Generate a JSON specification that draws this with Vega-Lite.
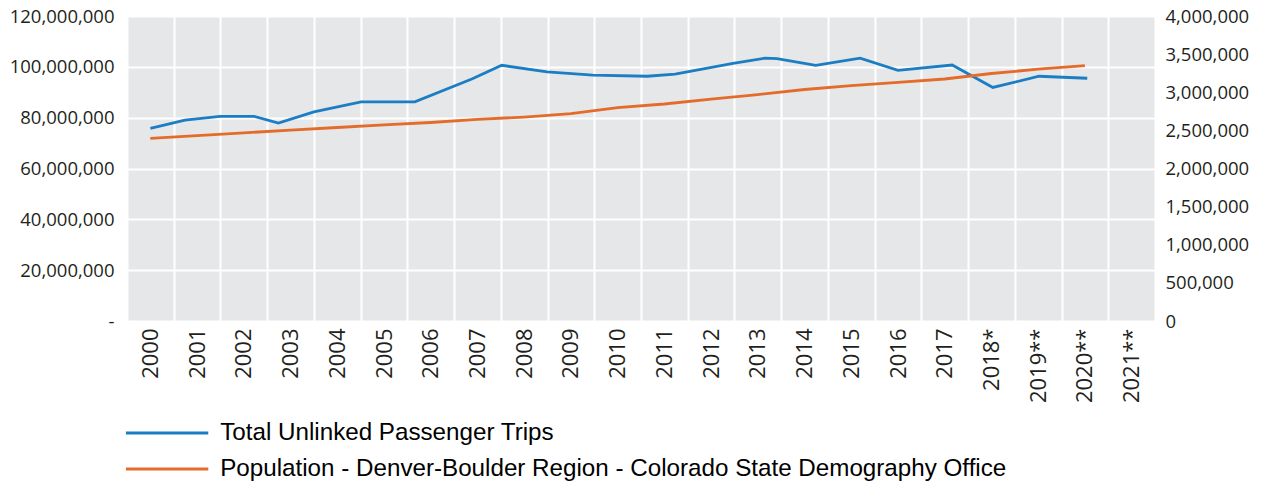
{
  "$schema": "https://vega.github.io/schema/vega-lite/v6.json",
  "width": 1028,
  "height": 305,
  "autosize": {"type": "none"},
  "padding": {"left": 127, "top": 16, "right": 106, "bottom": 164},
  "config": {
    "view": {"fill": "#e6e7e8", "stroke": null},
    "font": "Open Sans",
    "legend": {
      "orient": "none",
      "legendX": 28,
      "legendY": 405,
      "direction": "vertical",
      "title": null,
      "symbolType": "M-8,0H8",
      "symbolSize": 106,
      "symbolStrokeWidth": 3,
      "labelFontSize": 24.2,
      "labelFont": "Liberation Sans",
      "labelColor": "#000000",
      "labelOffset": 41,
      "rowPadding": 11,
      "padding": 0,
      "labelLimit": 1200
    }
  },
  "datasets": {
    "cats": [
      {"label": "2000"}, {"label": "2001"}, {"label": "2002"}, {"label": "2003"},
      {"label": "2004"}, {"label": "2005"}, {"label": "2006"}, {"label": "2007"},
      {"label": "2008"}, {"label": "2009"}, {"label": "2010"}, {"label": "2011"},
      {"label": "2012"}, {"label": "2013"}, {"label": "2014"}, {"label": "2015"},
      {"label": "2016"}, {"label": "2017"}, {"label": "2018*"}, {"label": "2019**"},
      {"label": "2020**"}, {"label": "2021**"}
    ],
    "trips": [
      {"t": 2000.0, "value": 75800000, "series": "Total Unlinked Passenger Trips"},
      {"t": 2000.74, "value": 79000000, "series": "Total Unlinked Passenger Trips"},
      {"t": 2001.49, "value": 80500000, "series": "Total Unlinked Passenger Trips"},
      {"t": 2002.22, "value": 80500000, "series": "Total Unlinked Passenger Trips"},
      {"t": 2002.74, "value": 77900000, "series": "Total Unlinked Passenger Trips"},
      {"t": 2003.5, "value": 82300000, "series": "Total Unlinked Passenger Trips"},
      {"t": 2004.51, "value": 86200000, "series": "Total Unlinked Passenger Trips"},
      {"t": 2005.66, "value": 86200000, "series": "Total Unlinked Passenger Trips"},
      {"t": 2006.88, "value": 95200000, "series": "Total Unlinked Passenger Trips"},
      {"t": 2007.52, "value": 100600000, "series": "Total Unlinked Passenger Trips"},
      {"t": 2008.49, "value": 98000000, "series": "Total Unlinked Passenger Trips"},
      {"t": 2009.47, "value": 96700000, "series": "Total Unlinked Passenger Trips"},
      {"t": 2010.63, "value": 96300000, "series": "Total Unlinked Passenger Trips"},
      {"t": 2011.23, "value": 97100000, "series": "Total Unlinked Passenger Trips"},
      {"t": 2012.47, "value": 101400000, "series": "Total Unlinked Passenger Trips"},
      {"t": 2013.15, "value": 103400000, "series": "Total Unlinked Passenger Trips"},
      {"t": 2013.41, "value": 103200000, "series": "Total Unlinked Passenger Trips"},
      {"t": 2014.24, "value": 100600000, "series": "Total Unlinked Passenger Trips"},
      {"t": 2015.19, "value": 103400000, "series": "Total Unlinked Passenger Trips"},
      {"t": 2016.0, "value": 98600000, "series": "Total Unlinked Passenger Trips"},
      {"t": 2017.16, "value": 100700000, "series": "Total Unlinked Passenger Trips"},
      {"t": 2018.03, "value": 91900000, "series": "Total Unlinked Passenger Trips"},
      {"t": 2019.02, "value": 96300000, "series": "Total Unlinked Passenger Trips"},
      {"t": 2020.05, "value": 95500000, "series": "Total Unlinked Passenger Trips"}
    ],
    "pop": [
      {"t": 2000, "value": 2396000, "series": "Population - Denver-Boulder Region - Colorado State Demography Office"},
      {"t": 2001, "value": 2431000, "series": "Population - Denver-Boulder Region - Colorado State Demography Office"},
      {"t": 2002, "value": 2468000, "series": "Population - Denver-Boulder Region - Colorado State Demography Office"},
      {"t": 2003, "value": 2503000, "series": "Population - Denver-Boulder Region - Colorado State Demography Office"},
      {"t": 2004, "value": 2538000, "series": "Population - Denver-Boulder Region - Colorado State Demography Office"},
      {"t": 2005, "value": 2573000, "series": "Population - Denver-Boulder Region - Colorado State Demography Office"},
      {"t": 2006, "value": 2603000, "series": "Population - Denver-Boulder Region - Colorado State Demography Office"},
      {"t": 2007, "value": 2643000, "series": "Population - Denver-Boulder Region - Colorado State Demography Office"},
      {"t": 2008, "value": 2675000, "series": "Population - Denver-Boulder Region - Colorado State Demography Office"},
      {"t": 2009, "value": 2720000, "series": "Population - Denver-Boulder Region - Colorado State Demography Office"},
      {"t": 2010, "value": 2797000, "series": "Population - Denver-Boulder Region - Colorado State Demography Office"},
      {"t": 2011, "value": 2846000, "series": "Population - Denver-Boulder Region - Colorado State Demography Office"},
      {"t": 2012, "value": 2910000, "series": "Population - Denver-Boulder Region - Colorado State Demography Office"},
      {"t": 2013, "value": 2970000, "series": "Population - Denver-Boulder Region - Colorado State Demography Office"},
      {"t": 2014, "value": 3036000, "series": "Population - Denver-Boulder Region - Colorado State Demography Office"},
      {"t": 2015, "value": 3088000, "series": "Population - Denver-Boulder Region - Colorado State Demography Office"},
      {"t": 2016, "value": 3130000, "series": "Population - Denver-Boulder Region - Colorado State Demography Office"},
      {"t": 2017, "value": 3174000, "series": "Population - Denver-Boulder Region - Colorado State Demography Office"},
      {"t": 2018, "value": 3246000, "series": "Population - Denver-Boulder Region - Colorado State Demography Office"},
      {"t": 2019, "value": 3302000, "series": "Population - Denver-Boulder Region - Colorado State Demography Office"},
      {"t": 2020, "value": 3350000, "series": "Population - Denver-Boulder Region - Colorado State Demography Office"}
    ]
  },
  "layer": [
    {
      "data": {"name": "cats"},
      "mark": {"type": "rule", "strokeOpacity": 0},
      "encoding": {
        "x": {
          "field": "label",
          "type": "ordinal",
          "sort": null,
          "scale": {"type": "band", "paddingInner": 0, "paddingOuter": 0},
          "axis": {
            "title": null,
            "tickBand": "extent",
            "grid": true,
            "gridColor": "#ffffff",
            "gridWidth": 2,
            "ticks": false,
            "domain": false,
            "labelAngle": -90,
            "labelFontSize": 22,
            "labelColor": "#231f20",
            "labelPadding": 7
          }
        }
      }
    },
    {
      "data": {"name": "trips"},
      "mark": {"type": "line", "strokeWidth": 2.8},
      "encoding": {
        "x": {"field": "t", "type": "quantitative", "scale": {"domain": [1999.5, 2021.5], "nice": false, "zero": false}, "axis": null},
        "y": {
          "field": "value",
          "type": "quantitative",
          "scale": {"domain": [0, 120000000], "nice": false},
          "axis": {
            "title": null,
            "orient": "left",
            "values": [0, 20000000, 40000000, 60000000, 80000000, 100000000, 120000000],
            "labelExpr": "datum.value == 0 ? '-' : format(datum.value, ',')",
            "grid": true,
            "gridColor": "#ffffff",
            "gridWidth": 2,
            "ticks": false,
            "domain": false,
            "labelFontSize": 18.5,
            "labelColor": "#231f20",
            "labelPadding": 13
          }
        },
        "color": {
          "field": "series",
          "type": "nominal",
          "scale": {
            "domain": ["Total Unlinked Passenger Trips", "Population - Denver-Boulder Region - Colorado State Demography Office"],
            "range": ["#1b7dc4", "#e46c2a"]
          }
        }
      }
    },
    {
      "data": {"name": "pop"},
      "mark": {"type": "line", "strokeWidth": 2.8},
      "encoding": {
        "x": {"field": "t", "type": "quantitative", "scale": {"domain": [1999.5, 2021.5], "nice": false, "zero": false}, "axis": null},
        "y": {
          "field": "value",
          "type": "quantitative",
          "scale": {"domain": [0, 4000000], "nice": false},
          "axis": {
            "title": null,
            "orient": "right",
            "values": [0, 500000, 1000000, 1500000, 2000000, 2500000, 3000000, 3500000, 4000000],
            "labelExpr": "format(datum.value, ',')",
            "grid": false,
            "ticks": false,
            "domain": false,
            "labelFontSize": 18.5,
            "labelColor": "#231f20",
            "labelPadding": 10
          }
        },
        "color": {
          "field": "series",
          "type": "nominal",
          "scale": {
            "domain": ["Total Unlinked Passenger Trips", "Population - Denver-Boulder Region - Colorado State Demography Office"],
            "range": ["#1b7dc4", "#e46c2a"]
          }
        }
      }
    }
  ],
  "resolve": {"scale": {"x": "independent", "y": "independent"}}
}
